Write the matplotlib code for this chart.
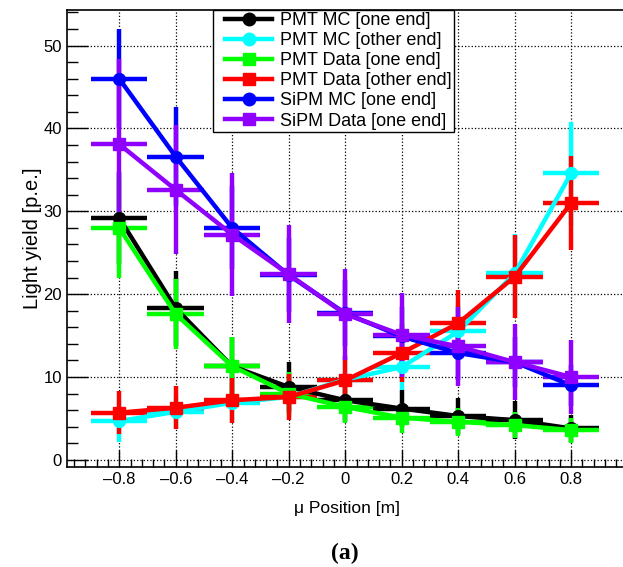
import numpy as np
import matplotlib
matplotlib.use("Agg")
import matplotlib.pyplot as plt
from matplotlib.lines import Line2D
from matplotlib.legend_handler import HandlerLine2D
from matplotlib.ticker import MultipleLocator, FuncFormatter

plt.rcParams['font.family'] = ['Liberation Sans', 'DejaVu Sans']

# muon position bins [m]
positions = [-0.8, -0.6, -0.4, -0.2, 0.0, 0.2, 0.4, 0.6, 0.8]
bin_half_width = 0.1

# light yield [p.e.] and errors per series
pmt_mc_one = [29.2, 18.3, 11.3, 8.8, 7.2, 6.2, 5.3, 4.8, 3.8]
pmt_mc_one_err = [5.5, 4.5, 3.5, 3.0, 2.5, 2.2, 2.2, 2.3, 1.6]
pmt_mc_other = [4.7, 5.8, 6.9, 7.6, 9.7, 11.2, 15.5, 22.5, 34.6]
pmt_mc_other_err = [2.5, 2.0, 2.2, 2.4, 2.6, 2.8, 3.5, 4.8, 6.2]
pmt_data_one = [28.0, 17.6, 11.3, 8.0, 6.4, 5.1, 4.6, 4.2, 3.6]
pmt_data_one_err = [6.0, 4.2, 3.5, 2.6, 2.0, 1.8, 1.7, 1.6, 1.5]
pmt_data_other = [5.7, 6.3, 7.2, 7.6, 9.6, 12.9, 16.5, 22.1, 31.0]
pmt_data_other_err = [2.6, 2.6, 2.7, 2.8, 3.0, 3.5, 4.0, 5.0, 5.7]
sipm_mc_one = [46.0, 36.6, 28.0, 22.3, 17.7, 14.9, 12.9, 11.8, 9.0]
sipm_mc_one_err = [6.0, 6.0, 5.0, 4.5, 4.0, 3.5, 3.3, 3.0, 2.5]
sipm_data_one = [38.1, 32.6, 27.2, 22.4, 17.6, 15.1, 13.7, 11.8, 10.0]
sipm_data_one_err = [10.3, 7.8, 7.4, 5.9, 5.5, 5.1, 4.8, 4.6, 4.5]

series = [
    ("PMT MC [one end]", pmt_mc_one, pmt_mc_one_err, "black", "o"),
    ("PMT MC [other end]", pmt_mc_other, pmt_mc_other_err, "#00ffff", "o"),
    ("PMT Data [one end]", pmt_data_one, pmt_data_one_err, "#00ff00", "s"),
    ("PMT Data [other end]", pmt_data_other, pmt_data_other_err, "#ff0000", "s"),
    ("SiPM MC [one end]", sipm_mc_one, sipm_mc_one_err, "#0000ff", "o"),
    ("SiPM Data [one end]", sipm_data_one, sipm_data_one_err, "#8f00ff", "s"),
]

fig = plt.figure(figsize=(6.23, 5.67), dpi=100)
ax = fig.add_axes([0.1075, 0.1764, 0.90, 0.806])

lw = 3.2
handles = []
for label, vals, errs, color, marker in series:
    ax.errorbar(positions, vals, yerr=errs, xerr=bin_half_width,
                color=color, lw=lw, elinewidth=lw, capsize=0,
                marker=marker, markersize=8.5, solid_capstyle='butt')
    handles.append(Line2D([0], [0], color=color, lw=lw, marker=marker,
                          markersize=9))

ax.set_xlim(-0.985, 1.0)
ax.set_ylim(-0.85, 54.3)

ax.xaxis.set_major_locator(MultipleLocator(0.2))
ax.xaxis.set_minor_locator(MultipleLocator(0.04))
ax.yaxis.set_major_locator(MultipleLocator(10))
ax.yaxis.set_minor_locator(MultipleLocator(2))
ax.tick_params(which='both', direction='in', top=False, right=False,
               labelsize=12, width=1, color='black')
ax.tick_params(axis='y', which='major', length=15)
ax.tick_params(axis='y', which='minor', length=8)
ax.tick_params(axis='x', which='major', length=12)
ax.tick_params(axis='x', which='minor', length=6)
ax.grid(True, which='major', linestyle=':', color='black', lw=0.9)
ax.set_axisbelow(True)

for sp in ax.spines.values():
    sp.set_linewidth(1.2)


def xfmt(v, p):
    if abs(v) > 0.9:
        return ""
    if abs(v) < 1e-9:
        return "0"
    return f"{v:.1f}".replace("-", "\u2013")


ax.xaxis.set_major_formatter(FuncFormatter(xfmt))
ax.yaxis.set_major_formatter(FuncFormatter(lambda v, p: f"{v:.0f}"))

ax.set_xlabel("\u03bc Position [m]", fontsize=12.5, labelpad=10)
ax.set_ylabel("Light yield [p.e.]", fontsize=14.5, labelpad=1)

# shift legend handles right to leave a gap inside the box
handler = HandlerLine2D(xpad=0.55)
leg = fig.legend(handles, [s[0] for s in series],
                 loc='upper left', bbox_to_anchor=(213 / 623, 1 - 10 / 567),
                 bbox_transform=fig.transFigure, borderaxespad=0,
                 fontsize=13, frameon=True, fancybox=False,
                 edgecolor='black', framealpha=1, handlelength=3.15,
                 labelspacing=0.17, borderpad=0.12, handletextpad=0.45,
                 handler_map={Line2D: handler})
leg.get_frame().set_linewidth(1.0)

fig.text(345 / 623, 1 - 553 / 567, "(a)", ha='center', va='center',
         fontsize=17, fontweight='bold', family='Liberation Serif')

fig.savefig("out.png", dpi=100)
